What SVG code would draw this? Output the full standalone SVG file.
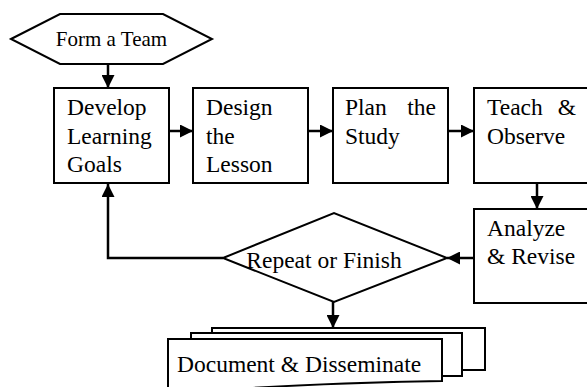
<svg xmlns="http://www.w3.org/2000/svg" width="587" height="387" viewBox="0 0 587 387" font-family="Liberation Serif, DejaVu Serif, serif">
<style>
.s{fill:#fff;stroke:#000;stroke-width:2}
.t{font-size:23.5px;fill:#000}
.c{fill:none;stroke:#000;stroke-width:2.5}
</style>
<defs>
<marker id="a" viewBox="0 0 10 10" refX="10" refY="5" markerWidth="13" markerHeight="13" markerUnits="userSpaceOnUse" orient="auto">
<path d="M0,0 L10,5 L0,10 Z" fill="#000"/>
</marker>
</defs>
<rect width="587" height="387" fill="#fff"/>
<g id="connectors">
<line class="c" x1="108" y1="64" x2="108" y2="88" marker-end="url(#a)"/>
<line class="c" x1="169" y1="131" x2="193" y2="131" marker-end="url(#a)"/>
<line class="c" x1="308" y1="131" x2="333" y2="131" marker-end="url(#a)"/>
<line class="c" x1="448" y1="131" x2="474" y2="131" marker-end="url(#a)"/>
<line class="c" x1="537" y1="183" x2="537" y2="209" marker-end="url(#a)"/>
<line class="c" x1="474" y1="258" x2="447" y2="258" marker-end="url(#a)"/>
<polyline class="c" points="223,258 108,258 108,184" marker-end="url(#a)"/>
<line class="c" x1="333" y1="302" x2="333" y2="328" marker-end="url(#a)"/>
</g>
<g id="form-team">
<polygon class="s" points="11,39 60,14 163,14 212,39 163,64 60,64"/>
<text class="t" x="111.5" y="46" text-anchor="middle" style="font-size:21px">Form a Team</text>
</g>
<g id="develop">
<rect class="s" x="54" y="88" width="115" height="95"/>
<text class="t"><tspan x="67" y="115">Develop</tspan><tspan x="67" y="143.5">Learning</tspan><tspan x="67" y="172">Goals</tspan></text>
</g>
<g id="design">
<rect class="s" x="193" y="88" width="115" height="95"/>
<text class="t"><tspan x="206" y="115">Design</tspan><tspan x="206" y="143.5">the</tspan><tspan x="206" y="172">Lesson</tspan></text>
</g>
<g id="plan">
<rect class="s" x="333" y="88" width="115" height="95"/>
<text class="t"><tspan x="345" y="115">Plan</tspan><tspan x="436" y="115" text-anchor="end">the</tspan><tspan x="345" y="143.5">Study</tspan></text>
</g>
<g id="teach">
<rect class="s" x="474" y="88" width="130" height="95"/>
<text class="t"><tspan x="487" y="115">Teach</tspan><tspan x="576" y="115" text-anchor="end">&amp;</tspan><tspan x="487" y="143.5">Observe</tspan></text>
</g>
<g id="analyze">
<rect class="s" x="474" y="209" width="130" height="94"/>
<text class="t"><tspan x="487" y="235.5">Analyze</tspan><tspan x="487" y="264">&amp; Revise</tspan></text>
</g>
<g id="repeat">
<polygon class="s" points="223,258 334,213 447,258 334,302"/>
<text class="t" x="324" y="268" text-anchor="middle">Repeat or Finish</text>
</g>
<g id="document">
<rect class="s" x="212" y="328" width="273" height="42"/>
<rect class="s" x="191" y="333" width="271" height="43"/>
<path class="s" d="M168,400 V339 H442 V381 C380,382 300,385 250,388 L200,395 L168,400 Z"/>
<text class="t" x="177" y="372">Document &amp; Disseminate</text>
</g>
</svg>
